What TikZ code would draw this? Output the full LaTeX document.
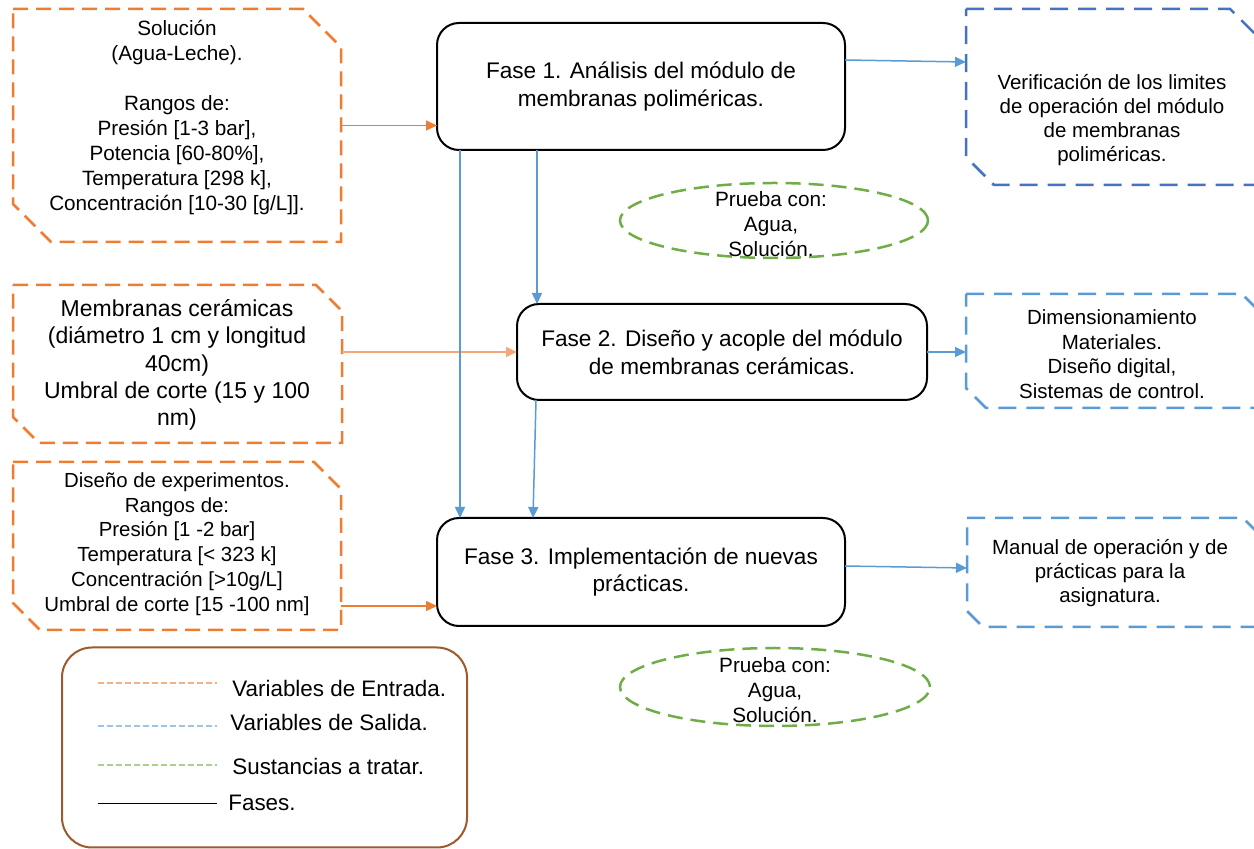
\documentclass[tikz,border=0pt]{standalone}
\usepackage{fontspec}
\setmainfont{Liberation Sans}
\usetikzlibrary{arrows.meta,calc,shapes.geometric}
\definecolor{orangeC}{HTML}{ED7D31}
\definecolor{orangeL}{HTML}{F4A87A}
\definecolor{orangeLL}{HTML}{F4B183}
\definecolor{blueC}{HTML}{5B9BD5}
\definecolor{blueD}{HTML}{4472C4}
\definecolor{blueL}{HTML}{9DC3E6}
\definecolor{greenC}{HTML}{70AD47}
\definecolor{greenL}{HTML}{A9D18E}
\definecolor{brownC}{HTML}{9E5A2C}
% chamfered frame around a named node: name, chamfer size, style
\newcommand\chamframe[3]{%
  \draw[#3] (#1.north west) -- ($(#1.north east)+(-#2,0)$) -- ($(#1.north east)+(0,#2)$)
    -- (#1.south east) -- ($(#1.south west)+(#2,0)$) -- ($(#1.south west)+(0,-#2)$) -- cycle;}
\begin{document}
\begin{tikzpicture}[x=0.5pt,y=-0.5pt,
  frame/.style={inner sep=0pt,outer sep=0pt},
  inframe/.style={orangeC,line width=1.25pt,dash pattern=on 7.5pt off 4pt},
  outframe/.style={blueC,line width=1.25pt,dash pattern=on 9pt off 5pt},
  phase/.style={draw=black,line width=1pt,rounded corners=11pt,align=center,
    font=\fontsize{11.3pt}{13.8pt}\selectfont,inner sep=0pt,outer sep=0pt},
  txt/.style={align=center,inner sep=0pt,font=\fontsize{10.35pt}{12.5pt}\selectfont},
  ell/.style={ellipse,draw=greenC,line width=1.25pt,dash pattern=on 7.5pt off 4pt,
    inner sep=0pt,outer sep=0pt},
  arr/.style={-{Triangle[length=5.5pt,width=5pt]},line width=0.75pt},
  legtxt/.style={anchor=west,inner sep=0pt,font=\fontsize{11.2pt}{13pt}\selectfont}
]
\useasboundingbox (0,0) rectangle (1254,849);
\fill[white] (0,0) rectangle (1254,849);

% ---- input boxes (left)
\node[frame,minimum width=164pt,minimum height=116.5pt] (L1) at (177,125.5) {};
\chamframe{L1}{38}{inframe}
\node[txt] (L1t) at (177,118) {Solución\\(Agua-Leche).\\[12.5pt]Rangos de:\\Presión [1-3 bar],\\Potencia [60-80\%],\\Temperatura [298 k],\\Concentración [10-30 [g/L]].};

\node[frame,minimum width=164.5pt,minimum height=79pt] (L2) at (177.5,364) {};
\chamframe{L2}{26}{inframe}
\node[txt,font=\fontsize{11.5pt}{13.6pt}\selectfont] (L2t) at (177,365) {Membranas cerámicas\\(diámetro 1 cm y longitud\\40cm)\\Umbral de corte (15 y 100\\nm)};

\node[frame,minimum width=164pt,minimum height=84pt] (L3) at (177,546) {};
\chamframe{L3}{27}{inframe}
\node[txt,font=\fontsize{10.2pt}{12.4pt}\selectfont] (L3t) at (177,544) {Diseño de experimentos.\\Rangos de:\\Presión [1 -2 bar]\\Temperatura [< 323 k]\\Concentración [>10g/L]\\Umbral de corte [15 -100 nm]};

% ---- phases
\node[phase,minimum width=204pt,minimum height=63.5pt] (F1) at (641,86.5) {Fase 1. Análisis del módulo de\\membranas poliméricas.};
\node[phase,minimum width=205pt,minimum height=48pt] (F2) at (722,352) {Fase 2. Diseño y acople del módulo\\de membranas cerámicas.};
\node[phase,minimum width=204pt,minimum height=54pt] (F3) at (641,572) {Fase 3. Implementación de nuevas\\prácticas.};

% ---- output boxes (right)
\node[frame,minimum width=146pt,minimum height=88pt] (R1) at (1112,97) {};
\chamframe{R1}{28}{outframe,blueD}
\node[txt,font=\fontsize{10.25pt}{11.9pt}\selectfont] (R1t) at (1112,120) {Verificación de los limites\\de operación del módulo\\de membranas\\poliméricas.};

\node[frame,minimum width=148pt,minimum height=57pt] (R2) at (1114,351) {};
\chamframe{R2}{20}{outframe}
\node[txt,font=\fontsize{10.25pt}{12.3pt}\selectfont] (R2t) at (1112,354) {Dimensionamiento\\Materiales.\\Diseño digital,\\Sistemas de control.};

\node[frame,minimum width=146pt,minimum height=54.5pt] (R3) at (1113,572.5) {};
\chamframe{R3}{16}{outframe}
\node[txt,font=\fontsize{10.25pt}{12pt}\selectfont] (R3t) at (1110,573) {Manual de operación y de\\prácticas para la\\asignatura.};

% ---- ellipses
\node[ell,minimum width=154pt,minimum height=37.5pt] (E1) at (774,220.5) {};
\node[txt] (E1t) at (771,224) {Prueba con:\\Agua,\\Solución.};
\node[ell,minimum width=155pt,minimum height=39pt] (E2) at (775,687) {};
\node[txt] (E2t) at (775,690.5) {Prueba con:\\Agua,\\Solución.};

% ---- connectors
\draw[arr,orangeC] (L1.east) -- (L1.east -| F1.west);
\draw[arr,orangeL] (L2.east |- F2.west) -- (F2.west);
\draw[arr,orangeC] (L3.east |- 0,606) -- (F3.west |- 0,606);
\draw[arr,blueC] (F1.east |- 0,60) -- (R1.west |- 0,62);
\draw[arr,blueC] (F2.east) -- (F2.east -| R2.west);
\draw[arr,blueC] (F3.east |- 0,566) -- (R3.west |- 0,568);
\draw[arr,blueC] (F1.south -| 537,0) -- (F2.north -| 537,0);
\draw[arr,blueC] (F1.south -| 460,0) -- (F3.north -| 460,0);
\draw[arr,blueC] (F2.south -| 536,0) -- (F3.north -| 533,0);

% ---- legend
\node[frame,draw=brownC,line width=1pt,rounded corners=15pt,minimum width=202.5pt,minimum height=100pt] (leg) at (264.5,747.5) {};
\draw[orangeLL,line width=0.6pt,dash pattern=on 3pt off 1.5pt] (98,683) -- (217,683);
\node[legtxt] (lg1) at (232,688) {Variables de Entrada.};
\draw[blueL,line width=0.6pt,dash pattern=on 3pt off 1.5pt] (98,726) -- (217,726);
\node[legtxt] (lg2) at (230,722) {Variables de Salida.};
\draw[greenL,line width=0.6pt,dash pattern=on 3pt off 1.5pt] (98,765) -- (217,765);
\node[legtxt] (lg3) at (232,766) {Sustancias a tratar.};
\draw[black,line width=0.5pt] (98,804) -- (217,804);
\node[legtxt] (lg4) at (228,803) {Fases.};
\end{tikzpicture}
\end{document}
